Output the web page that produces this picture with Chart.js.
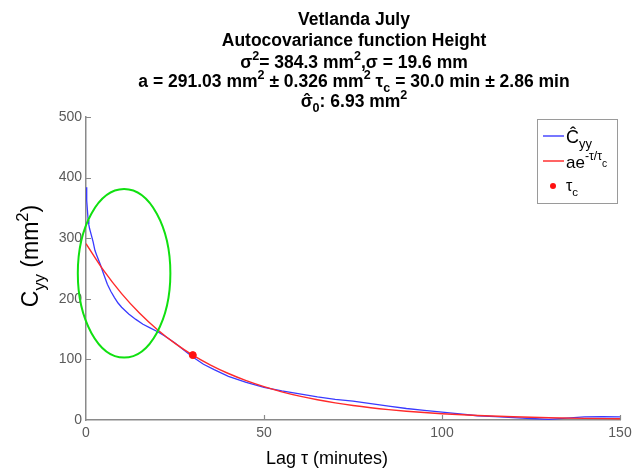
<!DOCTYPE html>
<html>
<head>
<meta charset="utf-8">
<title>Vetlanda July - autocovariance of height</title>
<script src="https://cdn.jsdelivr.net/npm/chart.js@4.4.0/dist/chart.umd.min.js"></script>
<style>
  html, body { margin: 0; padding: 0; background: #fff; }
  #wrap { width: 632px; height: 468px; }
</style>
</head>
<body>
<div id="wrap"><canvas id="acf" width="632" height="468"></canvas></div>
<script>
// ---------- Data ----------
// measured autocovariance C_yy (mm^2) against lag (minutes)
const lagMeasured = [0, 0.2, 0.4, 0.6, 0.8, 1, 1.5, 2, 2.5, 3, 4, 5, 6, 7, 8, 9, 10, 12, 14, 16, 18, 20,
  22, 25, 28, 30, 33, 36, 40, 45, 50, 55, 60, 65, 70, 75, 80, 85, 90, 95, 100, 105, 110, 115, 120,
  125, 130, 135, 140, 145, 150];
const cyyMeasured = [384, 362, 346, 330, 322, 316, 305, 294, 280, 272, 257, 240, 224, 212, 202, 193, 186,
  175, 166, 158, 152, 146, 139, 127, 113, 104, 92, 83, 72, 62, 54, 48, 43, 38, 34, 31, 27, 23, 19, 16,
  13, 10, 7, 5.5, 4, 2.5, 1, 3, 5, 5.5, 5];

// fitted a*exp(-tau/tau_c), a = 291.03, tau_c = 30.0
const lagFit = [0, 5, 10, 15, 20, 25, 30, 35, 40, 45, 50, 55, 60, 65, 70, 75, 80, 85, 90, 95, 100,
  110, 120, 130, 140, 150];
const cyyFit = [291.03, 246.35, 208.53, 176.52, 149.42, 126.48, 107.06, 90.63, 76.72, 64.94, 54.97,
  46.53, 39.39, 33.34, 28.22, 23.89, 20.22, 17.12, 14.49, 12.26, 10.38, 7.44, 5.33, 3.82, 2.74, 1.96];

// decorrelation time marker
const tauCLag = [30.0];
const tauCValue = [107.06];

const xTicks = [0, 50, 100, 150];
const yTicks = [0, 100, 200, 300, 400, 500];

// highlighted region (data units): centre lag, centre value, half-width, half-height
const ringCentre = [10.7, 242];
const ringRadius = [13, 139];

// ---------- Drawing helpers ----------
const FONT = '"Liberation Sans", Arial, Helvetica, sans-serif';
const AXIS_GREY = '#8a8a8a';

// draws text made of pieces: [text] normal, [text,'sup'], [text,'sub'], [text,'supsub'], [text,'hat']
function drawRich(ctx, parts, x, y, size, weight, align) {
  const sizeOf = m => (m === 'supsub' ? size * 0.6 : (m === 'sup' || m === 'sub') ? size * 0.72 : size);
  const shiftOf = m => (m === 'sup' ? -size * 0.45 : m === 'sub' ? size * 0.3 : m === 'supsub' ? -size * 0.08 : 0);
  let total = 0;
  parts.forEach(p => {
    ctx.font = `${weight} ${sizeOf(p[1])}px ${FONT}`;
    total += ctx.measureText(p[0]).width;
  });
  let cx = align === 'center' ? x - total / 2 : x;
  ctx.textAlign = 'left';
  ctx.textBaseline = 'alphabetic';
  parts.forEach(p => {
    ctx.font = `${weight} ${sizeOf(p[1])}px ${FONT}`;
    const w = ctx.measureText(p[0]).width;
    ctx.fillText(p[0], cx, y + shiftOf(p[1]));
    if (p[1] === 'hat') {
      ctx.textAlign = 'center';
      ctx.fillText('ˆ', cx + w / 2, y);
      ctx.textAlign = 'left';
    }
    cx += w;
  });
}

const titleLines = [
  [[['Vetlanda July']], 25],
  [[['Autocovariance function Height']], 46],
  [[['σ'], ['2', 'sup'], ['= 384.3 mm'], ['2', 'sup'], [',σ = 19.6 mm']], 68],
  [[['a = 291.03 mm'], ['2', 'sup'], [' ± 0.326 mm'], ['2', 'sup'], [' τ'], ['c', 'sub'],
    [' = 30.0 min ± 2.86 min']], 87],
  [[['σ', 'hat'], ['0', 'sub'], [': 6.93 mm'], ['2', 'sup']], 107]
];

const decor = {
  id: 'decor',
  afterDatasetsDraw(chart) {
    const { ctx, chartArea: area, scales: { x, y } } = chart;
    ctx.save();

    // green ring
    ctx.strokeStyle = '#10e010';
    ctx.lineWidth = 2;
    ctx.beginPath();
    const cx = x.getPixelForValue(ringCentre[0]);
    const cy = y.getPixelForValue(ringCentre[1]);
    const rx = x.getPixelForValue(ringCentre[0] + ringRadius[0]) - cx;
    const ry = cy - y.getPixelForValue(ringCentre[1] + ringRadius[1]);
    ctx.ellipse(cx, cy, rx, ry, 0, 0, Math.PI * 2);
    ctx.stroke();

    // inward tick marks
    ctx.strokeStyle = AXIS_GREY;
    ctx.lineWidth = 1.2;
    ctx.beginPath();
    xTicks.slice(1).forEach(v => {
      const px = Math.round(x.getPixelForValue(v)) + 0.5;
      ctx.moveTo(px, area.bottom);
      ctx.lineTo(px, area.bottom - 5);
    });
    yTicks.slice(1).forEach(v => {
      const py = Math.round(y.getPixelForValue(v)) + 0.5;
      ctx.moveTo(area.left, py);
      ctx.lineTo(area.left + 5, py);
    });
    ctx.stroke();

    // legend box
    const lx = 537.5, ly = 119.5, lw = 80, lh = 84;
    ctx.fillStyle = '#fff';
    ctx.fillRect(lx, ly, lw, lh);
    ctx.strokeStyle = '#9a9a9a';
    ctx.lineWidth = 1;
    ctx.strokeRect(lx, ly, lw, lh);
    ctx.lineWidth = 1.5;
    ctx.strokeStyle = '#4a4aff';
    ctx.beginPath(); ctx.moveTo(543, 136); ctx.lineTo(564, 136); ctx.stroke();
    ctx.strokeStyle = '#ff3030';
    ctx.beginPath(); ctx.moveTo(543, 161); ctx.lineTo(564, 161); ctx.stroke();
    ctx.fillStyle = '#ff1010';
    ctx.beginPath(); ctx.arc(553, 186, 3, 0, Math.PI * 2); ctx.fill();
    ctx.fillStyle = '#000';
    drawRich(ctx, [['Ĉ'], ['yy', 'sub']], 566, 143, 18, 'normal', 'left');
    drawRich(ctx, [['ae'], ['-τ/τ', 'sup'], ['c', 'supsub']], 566, 168, 17, 'normal', 'left');
    drawRich(ctx, [['τ'], ['c', 'sub']], 566, 191, 16, 'normal', 'left');

    // axis titles
    drawRich(ctx, [['Lag τ (minutes)']], 327, 464, 18, 'normal', 'center');
    ctx.translate(32, 256);
    ctx.rotate(-Math.PI / 2);
    drawRich(ctx, [['C'], ['yy', 'sub'], [' (mm'], ['2', 'sup'], [')']], 0, 6, 23, 'normal', 'center');
    ctx.setTransform(1, 0, 0, 1, 0, 0);

    // title block
    titleLines.forEach(([parts, base]) => drawRich(ctx, parts, 354, base, 17.5, 'bold', 'center'));

    ctx.restore();
  }
};

// ---------- Chart ----------
const tickFont = { family: FONT, size: 14 };

new Chart(document.getElementById('acf').getContext('2d'), {
  type: 'line',
  data: {
    datasets: [
      {
        label: 'Cyy',
        data: lagMeasured.map((v, i) => ({ x: v, y: cyyMeasured[i] })),
        borderColor: '#3a3aff',
        borderWidth: 1.3,
        pointRadius: 0,
        tension: 0,
        order: 2
      },
      {
        label: 'fit',
        data: lagFit.map((v, i) => ({ x: v, y: cyyFit[i] })),
        borderColor: '#ff2a2a',
        borderWidth: 1.4,
        pointRadius: 0,
        cubicInterpolationMode: 'monotone',
        order: 1
      },
      {
        label: 'tau_c',
        data: tauCLag.map((v, i) => ({ x: v, y: tauCValue[i] })),
        showLine: false,
        pointRadius: 3.5,
        pointBackgroundColor: '#ff1010',
        pointBorderColor: '#ff1010',
        order: 0
      }
    ]
  },
  options: {
    responsive: false,
    animation: false,
    devicePixelRatio: 1,
    layout: { padding: { left: 0, right: 12, top: 117, bottom: 0 } },
    plugins: { legend: { display: false }, title: { display: false }, tooltip: { enabled: false } },
    scales: {
      x: {
        type: 'linear',
        min: 0,
        max: 150,
        afterBuildTicks: s => { s.ticks = xTicks.map(v => ({ value: v })); },
        afterFit: s => { s.height = 48; s.paddingLeft = 0; s.paddingRight = 0; },
        grid: { display: false, drawTicks: false },
        border: { display: true, color: AXIS_GREY, width: 1.5 },
        ticks: { color: '#5a5a5a', font: tickFont, padding: 5, maxRotation: 0 }
      },
      y: {
        min: 0,
        max: 500,
        afterBuildTicks: s => { s.ticks = yTicks.map(v => ({ value: v })); },
        afterFit: s => { s.width = 86; s.paddingTop = 0; s.paddingBottom = 0; },
        grid: { display: false, drawTicks: false },
        border: { display: true, color: AXIS_GREY, width: 1.5 },
        ticks: { color: '#5a5a5a', font: tickFont, padding: 4 }
      }
    }
  },
  plugins: [decor]
});
</script>
</body>
</html>
